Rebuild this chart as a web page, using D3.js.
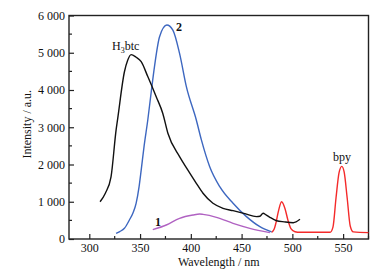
<!DOCTYPE html>
<html><head><meta charset="utf-8">
<script src="https://cdn.jsdelivr.net/npm/d3@7"></script>
<style>
html,body{margin:0;padding:0;background:#fff;}
svg{display:block;font-family:"Liberation Serif","Times New Roman",serif;}
</style></head>
<body><div id="chart"></div>
<script>
// ---- data ----
const h3btcWl = [310.6,315.8,321.4,326.4,328,334.6,337.8,341.2,346.1,351.1,357.6,365.9,372.4,377.4,388.9,397.1,405.4,412,421.8,431.7,441.6,453.2,464.7,468,471.2,474,477.9,484.5,492,500.9,507.5];
const h3btcVal = [1000,1230,1670,2930,3240,4490,4800,4950,4880,4760,4360,3820,3370,2840,2210,1850,1495,1227,958,824,760,680,600,610,690,650,582,491,460,438,529];

const c2Wl = [326.4,330,334.6,339.5,343,346.1,349,351.1,354,357.6,361,364.2,369.2,376.4,382.3,388.9,395.6,405.4,410.4,418.6,428.5,441.6,454.8,468,479.5];
const c2Val = [153,200,287,510,700,958,1400,1850,2500,3195,3950,4630,5430,5745,5610,4985,4090,3195,2660,1940,1404,958,600,330,190];

const c1Wl = [362.5,375.8,388.9,402.1,408.7,412,425.2,441.6,458.1,477.9];
const c1Val = [250,376,555,644,670,660,582,421,287,170];

const bpyWl = [479.5,482,484,486.3,489.4,492.7,495.7,498.6,502.6,507.5,520,537.2,540,543,546,548.7,551,554,557,560,575];
const bpyVal = [180,260,450,750,1000,820,500,280,196,180,180,180,320,1100,1780,1950,1800,1100,350,190,170];

const xTicks = [300,350,400,450,500,550];
const yTicks = [0,1000,2000,3000,4000,5000,6000];
const yTickLabels = ["0","1 000","2 000","3 000","4 000","5 000","6 000"];

// ---- layout ----
const W = 385, H = 273;
const m = {l:69, r:385-368.5, t:15.5, b:273-239};
const svg = d3.select("#chart").append("svg").attr("width",W).attr("height",H);
const x = d3.scaleLinear().domain([280,575]).range([m.l, W-m.r]);
const y = d3.scaleLinear().domain([0,6000]).range([H-m.b, m.t]);

const axisColor = "#222";
// frame
svg.append("rect").attr("x",x(280)).attr("y",y(6000)).attr("width",x(575)-x(280)).attr("height",y(0)-y(6000))
  .attr("fill","none").attr("stroke",axisColor).attr("stroke-width",1.4);

// x axis ticks (inward)
const xMinor = d3.range(300,576,25).filter(v=>xTicks.indexOf(v)<0);
const gx = svg.append("g").attr("transform",`translate(0,${y(0)})`);
gx.call(d3.axisBottom(x).tickValues(xTicks).tickSize(-5).tickPadding(4).tickFormat(d3.format("d")));
gx.select(".domain").remove();
gx.selectAll(".tick line").attr("stroke",axisColor).attr("stroke-width",1.2);
gx.selectAll(".tick text").attr("font-size","12px").attr("fill","#111").attr("font-family","Liberation Serif");
gx.selectAll(".minor").data(xMinor).enter().append("line")
  .attr("x1",d=>x(d)).attr("x2",d=>x(d)).attr("y1",0).attr("y2",-3).attr("stroke",axisColor).attr("stroke-width",1.2);

// y axis
const yMinor = d3.range(500,6000,1000);
const gy = svg.append("g").attr("transform",`translate(${x(280)},0)`);
gy.call(d3.axisLeft(y).tickValues(yTicks).tickSize(-5).tickPadding(4).tickFormat((d,i)=>yTickLabels[i]));
gy.select(".domain").remove();
gy.selectAll(".tick line").attr("stroke",axisColor).attr("stroke-width",1.2);
gy.selectAll(".tick text").attr("font-size","12px").attr("fill","#111").attr("font-family","Liberation Serif");
gy.selectAll(".minor").data(yMinor).enter().append("line")
  .attr("y1",d=>y(d)).attr("y2",d=>y(d)).attr("x1",0).attr("x2",3).attr("stroke",axisColor).attr("stroke-width",1.2);

// axis titles
svg.append("text").attr("x",(x(280)+x(575))/2).attr("y",266).attr("text-anchor","middle")
  .attr("font-size","12px").attr("fill","#111").text("Wavelength / nm");
svg.append("text").attr("transform",`translate(31,${(y(0)+y(6000))/2-3}) rotate(-90)`).attr("text-anchor","middle")
  .attr("font-size","12px").attr("fill","#111").text("Intensity / a.u.");

// lines
const line = d3.line().x(d=>x(d[0])).y(d=>y(d[1])).curve(d3.curveMonotoneX);
function draw(wl, val, color){
  svg.append("path").datum(wl.map((w,i)=>[w,val[i]])).attr("d",line)
    .attr("fill","none").attr("stroke",color).attr("stroke-width",1.4).attr("stroke-linejoin","round");
}
draw(bpyWl, bpyVal, "#f42a2a");
draw(c1Wl, c1Val, "#b062c2");
draw(c2Wl, c2Val, "#3d67c0");
draw(h3btcWl, h3btcVal, "#111");

// labels
const lab = svg.append("text").attr("x",112).attr("y",50).attr("font-size","12px").attr("fill","#111");
lab.append("tspan").text("H");
lab.append("tspan").attr("font-size","8px").attr("dy",3).text("3");
lab.append("tspan").attr("dy",-3).text("btc");
svg.append("text").attr("x",176).attr("y",31).attr("font-size","12px").attr("font-weight","bold").attr("fill","#111").text("2");
svg.append("text").attr("x",155).attr("y",226).attr("font-size","12px").attr("font-weight","bold").attr("fill","#111").text("1");
svg.append("text").attr("x",342).attr("y",161).attr("text-anchor","middle").attr("font-size","12px").attr("fill","#111").text("bpy");
</script>
</body></html>
